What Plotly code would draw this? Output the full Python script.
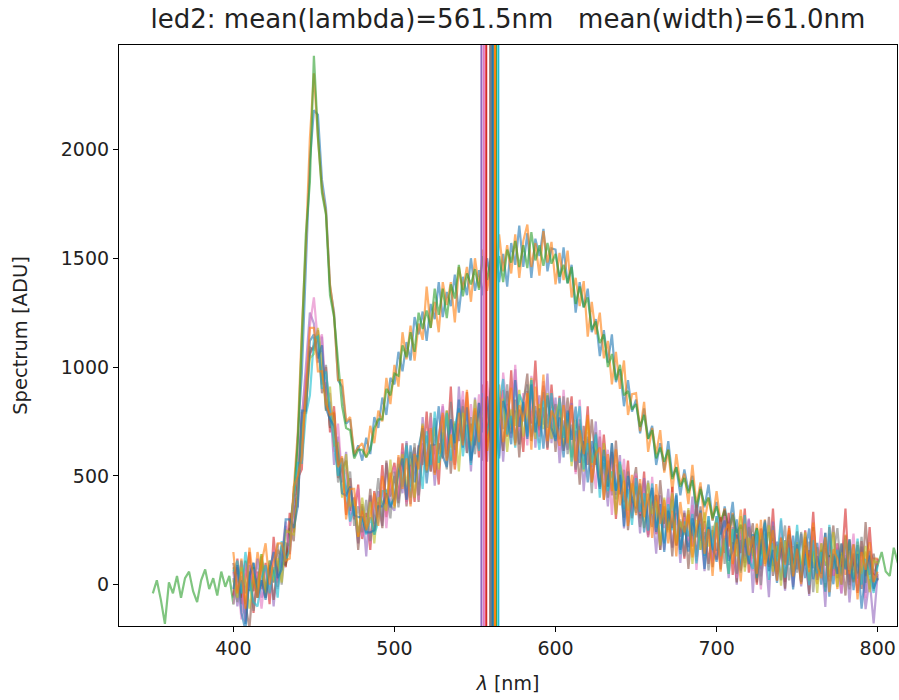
import plotly.graph_objects as go

# wavelength grids (nm), 2.5 nm sampling
WL = [400 + 2.5 * i for i in range(161)]          # 400 .. 800
WL_GREEN = [350 + 2.5 * i for i in range(187)]    # 350 .. 815

# ---------------- bright spectra (ADU) ----------------
HIGH_BLUE = [
    -60, 80, -20, -180, 40, 100, -50, 20, -60, 110, 60, 10, 140, 120, 240, 350, 680, 970, 1460, 1950,
    2180, 2160, 1860, 1730, 1370, 1250, 940, 910, 740, 760, 590, 640, 570, 675, 600, 770, 720, 860, 780, 950,
    920, 1070, 980, 1115, 1030, 1230, 1150, 1255, 1120, 1290, 1220, 1390, 1230, 1345, 1280, 1425, 1250, 1415, 1330, 1500,
    1350, 1445, 1330, 1500, 1400, 1570, 1390, 1520, 1370, 1570, 1470, 1650, 1460, 1615, 1410, 1590, 1510, 1635, 1440, 1545,
    1540, 1385, 1550, 1385, 1470, 1250, 1390, 1275, 1360, 1160, 1220, 1050, 1170, 1020, 1150, 930, 990, 820, 940, 795,
    850, 695, 810, 670, 730, 550, 650, 525, 660, 495, 540, 410, 530, 430, 500, 315, 450, 355, 460, 295,
    380, 230, 360, 255, 380, 188, 265, 132, 300, 170, 260, 70, 210, 242, 85, 198, 20, 205, 90, 225,
    70, 235, 30, 158, 75, 192, 0, 168, 125, 2, 170, 48, 225, 12, 120, 28, 175, -38, 130, 50,
    40]
HIGH_ORANGE = [
    80, -40, 120, -90, 60, -30, 150, 40, -50, 90, 10, 160, 130, 90, 180, 440, 700, 1170, 1560, 2050,
    2350, 2050, 1820, 1710, 1380, 1240, 940, 940, 750, 770, 600, 630, 650, 585, 730, 650, 800, 750, 950, 830,
    1010, 910, 1160, 1035, 1190, 1030, 1200, 1125, 1370, 1180, 1300, 1160, 1390, 1285, 1390, 1205, 1460, 1355, 1460, 1300,
    1500, 1365, 1540, 1350, 1480, 1330, 1610, 1440, 1560, 1430, 1610, 1410, 1580, 1655, 1460, 1570, 1420, 1625, 1480, 1575,
    1380, 1525, 1400, 1535, 1320, 1410, 1280, 1395, 1140, 1300, 1150, 1250, 1040, 1120, 920, 1070, 900, 1030, 780, 875,
    880, 705, 840, 610, 720, 600, 710, 515, 620, 425, 600, 460, 510, 370, 550, 365, 470, 285, 400, 295,
    430, 280, 350, 175, 330, 188, 345, 182, 250, 120, 280, 130, 300, 92, 205, 58, 220, 115, 250, 65,
    190, 35, 220, 78, 185, 2, 150, 188, 35, 132, -20, 188, 45, 152, 10, 198, 55, 152, -20, 120,
    120]
HIGH_GREEN = [
    -40, 20, -70, -180, 10, -40, 40, -60, 30, 60, -30, -80, 20, 70, -20, 30, -50, 60, -10, 40,
    -90, 50, -60, 110, -30, 80, -20, 140, -30, 80, 60, -10, 100, 90, 270, 400, 650, 1150, 1610, 1850,
    2430, 2060, 1800, 1700, 1330, 1230, 1020, 820, 720, 710, 580, 620, 620, 585, 620, 720, 760, 760, 900, 870,
    970, 960, 1100, 1045, 1160, 1070, 1250, 1175, 1260, 1180, 1360, 1240, 1360, 1225, 1380, 1315, 1470, 1325, 1430, 1380,
    1450, 1355, 1510, 1400, 1510, 1430, 1510, 1390, 1540, 1480, 1580, 1460, 1560, 1455, 1620, 1490, 1560, 1465, 1570, 1475,
    1520, 1415, 1470, 1385, 1460, 1290, 1370, 1275, 1320, 1170, 1210, 1110, 1150, 1000, 1060, 940, 1010, 870, 890, 805,
    830, 725, 780, 670, 710, 580, 630, 565, 620, 485, 540, 450, 490, 420, 480, 355, 440, 365, 400, 305,
    360, 290, 340, 245, 320, 238, 275, 172, 260, 190, 260, 140, 210, 132, 215, 128, 190, 95, 200, 95,
    160, 75, 180, 88, 155, 52, 160, 88, 135, 62, 160, 48, 135, 62, 140, 28, 115, 42, 130, 50,
    90, 150, 60, 40, 170, 100, 160]

# ---------------- dim spectra (ADU) ----------------
LOW_RED = [
    -50, 120, -90, 30, 150, -130, 60, -20, 100, -90, 220, 20, 160, 80, 330, 240, 490, 530, 940, 1060,
    1100, 1170, 940, 1000, 700, 820, 550, 580, 320, 490, 300, 460, 210, 330, 160, 430, 320, 550, 310, 485,
    560, 395, 650, 380, 550, 380, 640, 550, 795, 520, 645, 460, 780, 600, 910, 550, 740, 660, 885, 560,
    800, 585, 920, 685, 840, 545, 800, 895, 680, 985, 650, 805, 610, 890, 740, 1030, 680, 815, 620, 920,
    680, 868, 615, 730, 865, 518, 730, 590, 820, 470, 620, 460, 690, 480, 610, 302, 525, 378, 570, 305,
    500, 305, 520, 228, 375, 412, 160, 360, 250, 450, 180, 290, 120, 342, 175, 368, 200, 292, 95, 250,
    115, 310, 145, 330, 45, 230, 145, 350, 55, 192, 0, 258, 175, 82, 350, 48, 185, 12, 270, 98,
    195, 12, 250, 78, 335, 22, 130, -32, 265, 42, 190, 80, 350, -2, 135, -38, 200, 38, 265, 12,
    120]
LOW_PURPLE = [
    60, -100, 40, -170, 90, -30, 120, -60, -10, 100, -100, 110, 80, 270, 140, 360, 360, 760, 1000, 1250,
    1200, 1020, 1140, 800, 840, 550, 680, 470, 610, 320, 360, 190, 360, 130, 410, 280, 430, 270, 560, 365,
    340, 585, 420, 660, 370, 590, 460, 770, 555, 710, 455, 670, 820, 580, 750, 550, 910, 650, 815, 520,
    860, 625, 770, 565, 920, 685, 860, 565, 830, 735, 990, 645, 830, 710, 940, 630, 870, 735, 970, 650,
    860, 558, 755, 620, 835, 538, 740, 430, 670, 540, 750, 450, 550, 360, 600, 412, 595, 258, 470, 315,
    470, 235, 490, 288, 355, 142, 410, 260, 440, 170, 330, 100, 340, 172, 405, 108, 260, 62, 315, 110,
    315, 110, 225, 30, 265, 0, 225, 130, 295, -38, 230, 38, 165, -58, 290, 78, 165, -28, 220, -12,
    185, -8, 140, -52, 225, 22, 150, -102, 235, 42, 80, -40, 180, -82, 145, -28, 100, -112, 25, -178,
    50]
LOW_BROWN = [
    100, -30, 20, -90, -200, 40, -60, 130, -30, 90, -70, 80, 180, 90, 260, 200, 480, 790, 790, 1090,
    1080, 1150, 880, 930, 720, 790, 490, 530, 570, 340, 400, 160, 370, 250, 440, 230, 380, 260, 570, 405,
    500, 375, 610, 360, 540, 630, 380, 650, 545, 790, 515, 650, 580, 800, 510, 740, 660, 850, 605, 740,
    640, 835, 570, 775, 910, 645, 760, 615, 890, 715, 850, 585, 830, 970, 660, 800, 710, 915, 740, 860,
    610, 808, 685, 860, 585, 708, 460, 730, 550, 760, 550, 680, 390, 570, 410, 662, 415, 528, 250, 435,
    540, 315, 390, 218, 435, 232, 480, 280, 350, 130, 390, 220, 330, 72, 285, 128, 360, 182, 295, 80,
    285, 70, 345, 130, 195, 10, 275, 80, 195, 282, 10, 208, 115, 312, 40, 158, 215, -18, 230, 68,
    245, 32, 150, -42, 265, 72, 190, -12, 125, 272, 30, 140, -50, 208, 65, 182, -20, 288, 45, 142,
    20]
LOW_PINK = [
    -90, 50, -160, 100, -20, 70, 30, -110, 70, -30, 160, -20, 130, 290, 140, 400, 410, 770, 950, 1190,
    1320, 1110, 1150, 850, 880, 610, 740, 490, 530, 270, 390, 440, 220, 310, 190, 420, 310, 450, 260, 485,
    540, 385, 620, 370, 530, 610, 390, 690, 545, 770, 525, 690, 830, 620, 760, 530, 730, 890, 615, 830,
    660, 875, 620, 935, 710, 825, 590, 975, 790, 675, 1010, 705, 880, 640, 960, 800, 650, 935, 720, 870,
    800, 618, 895, 660, 805, 508, 850, 560, 700, 620, 440, 710, 480, 620, 320, 552, 435, 578, 320, 455,
    510, 325, 430, 218, 495, 232, 350, 160, 400, 260, 420, 150, 310, 202, 365, 68, 310, 152, 245, 100,
    265, 90, 315, 120, 185, 30, 255, 130, 305, 62, 190, -22, 255, 122, 200, 18, 295, 82, 210, -2,
    225, 52, 170, -2, 245, 72, 260, 8, 125, 42, 190, -40, 160, 68, 235, 2, 130, -62, 165, 62,
    40]
LOW_GRAY = [
    30, -80, 110, -40, 60, -120, 20, 90, -60, 60, 10, 190, 0, 190, 180, 420, 390, 730, 880, 1070,
    1090, 1140, 920, 1010, 730, 770, 470, 550, 420, 520, 270, 360, 240, 390, 200, 330, 490, 310, 440, 305,
    520, 355, 510, 650, 450, 650, 410, 600, 685, 520, 765, 600, 700, 530, 840, 620, 700, 820, 605, 770,
    600, 775, 850, 655, 750, 585, 840, 715, 920, 695, 800, 645, 850, 920, 680, 820, 730, 885, 630, 780,
    830, 668, 865, 600, 735, 528, 760, 610, 680, 420, 700, 500, 560, 400, 650, 392, 495, 308, 520, 375,
    450, 265, 380, 478, 265, 412, 160, 350, 260, 390, 180, 300, 130, 322, 225, 378, 160, 242, 65, 270,
    155, 290, 95, 240, 325, 50, 205, 100, 265, 132, 220, -2, 235, 102, 270, 58, 155, 272, 20, 178,
    55, 242, 90, 198, -35, 172, 100, 238, 15, 142, 260, 40, 120, -22, 185, 52, 220, 8, 135, -28,
    110]
LOW_OLIVE = [
    20, -60, 80, 10, -110, 50, -30, 140, -40, 110, 20, 120, 10, 250, 240, 230, 420, 710, 810, 1040,
    1060, 1180, 1020, 800, 910, 640, 650, 400, 600, 360, 390, 220, 400, 260, 380, 190, 400, 380, 340, 575,
    350, 515, 600, 450, 610, 400, 590, 740, 515, 620, 725, 530, 700, 800, 630, 750, 520, 790, 725, 640,
    850, 695, 790, 615, 890, 675, 770, 855, 610, 805, 730, 895, 680, 790, 950, 670, 830, 715, 880, 670,
    780, 838, 635, 760, 545, 758, 670, 520, 760, 550, 650, 450, 650, 450, 520, 322, 555, 478, 340, 465,
    350, 455, 260, 468, 325, 382, 180, 400, 240, 420, 190, 290, 230, 352, 95, 298, 160, 332, 175, 240,
    305, 130, 205, 50, 255, 130, 315, 60, 215, 142, 30, 238, 95, 272, 60, 178, -5, 202, 140, 38,
    195, 92, 240, 18, 155, -38, 190, 118, 45, 242, -10, 150, 80, 198, 15, 152, 50, 178, -35, 112,
    100]
LOW_CYAN = [
    60, 110, -40, 150, 20, -80, -100, 30, 90, -40, 80, -60, 200, 110, 160, 420, 560, 560, 780, 870,
    1130, 1140, 900, 980, 800, 640, 500, 580, 420, 290, 360, 240, 310, 230, 310, 230, 290, 430, 430, 365,
    400, 555, 450, 640, 400, 590, 590, 440, 705, 550, 795, 560, 620, 790, 570, 730, 810, 590, 735, 550,
    780, 615, 880, 695, 770, 595, 830, 945, 690, 775, 630, 875, 830, 680, 940, 750, 620, 845, 720, 880,
    670, 858, 675, 790, 565, 718, 820, 530, 650, 560, 690, 400, 590, 430, 520, 432, 565, 348, 440, 275,
    490, 335, 420, 248, 465, 262, 330, 190, 370, 250, 420, 140, 290, 222, 325, 98, 280, 132, 315, 160,
    315, 130, 215, 50, 255, 190, 55, 320, 115, 72, 250, 88, 285, 22, 190, 108, 305, 32, 170, 58,
    275, 42, 140, -2, 205, 52, 150, -32, 275, 72, 160, 0, 210, 78, 25, 212, 0, 118, 45, -38,
    90]
LOW_BLUE = [
    -20, 90, -130, -210, 40, 100, -60, 20, -70, 70, 150, 30, 70, 300, 300, 260, 360, 800, 800, 1120,
    1150, 1040, 1100, 810, 760, 730, 600, 420, 410, 450, 320, 310, 310, 240, 240, 250, 360, 360, 420, 355,
    400, 515, 580, 390, 640, 470, 630, 720, 465, 640, 645, 820, 590, 540, 760, 650, 850, 630, 815, 570,
    660, 835, 700, 865, 650, 795, 580, 845, 780, 645, 940, 725, 840, 670, 920, 700, 810, 625, 870, 720,
    660, 768, 585, 800, 665, 818, 560, 660, 470, 660, 580, 440, 620, 450, 650, 432, 505, 268, 500, 395,
    330, 465, 240, 378, 445, 242, 370, 150, 340, 260, 410, 160, 270, 152, 305, 218, 340, 72, 265, 170,
    105, 230, 295, 110, 155, 300, 65, 210, 95, 232, 30, 178, 295, 62, 160, 8, 195, 102, 230, -22,
    185, 12, 150, 258, 25, 132, 50, 238, -55, 142, 50, 190, 70, 208, -25, 142, -110, 58, 155, -18,
    30]
LOW_ORANGE = [
    150, -40, 60, -110, 170, 20, -60, 100, 190, 0, 100, 190, 190, 110, 120, 450, 500, 590, 880, 1180,
    1180, 980, 980, 830, 780, 790, 540, 590, 300, 440, 440, 220, 340, 250, 310, 420, 270, 500, 370, 515,
    360, 595, 440, 580, 360, 600, 530, 730, 525, 720, 505, 680, 790, 570, 690, 530, 790, 640, 895, 660,
    810, 655, 860, 615, 760, 685, 920, 655, 770, 905, 640, 825, 750, 880, 620, 910, 730, 965, 660, 800,
    760, 638, 825, 650, 825, 568, 710, 600, 780, 470, 600, 630, 390, 600, 430, 622, 365, 478, 270, 505,
    320, 485, 310, 418, 215, 462, 280, 390, 190, 340, 130, 380, 240, 322, 125, 258, 330, 142, 255, 40,
    285, 60, 245, 280, 95, 210, 15, 280, 135, 222, 50, 298, 85, 172, 250, 18, 215, 92, 260, 38,
    165, 2, 210, 58, 285, 82, 30, 218, -35, 162, 120, 0, 230, 48, 185, -68, 150, 68, 195, 12,
    60]

# per-spectrum mean wavelength (nm), drawn as vertical lines
MEAN_LAMBDA = [561.0, 562.5, 563.0, 557.0, 554.0, 559.5, 555.5, 560.0, 562.0, 564.5, 561.0, 562.5]

TITLE = "led2: mean(lambda)=561.5nm\u00a0\u00a0\u00a0mean(width)=61.0nm"
XTICKS = [400, 500, 600, 700, 800]
YTICKS = [0, 500, 1000, 1500, 2000]

TAB10 = ["#1f77b4", "#ff7f0e", "#2ca02c", "#d62728", "#9467bd",
         "#8c564b", "#e377c2", "#7f7f7f", "#bcbd22", "#17becf"]

series = [
    (WL, HIGH_BLUE), (WL, HIGH_ORANGE), (WL_GREEN, HIGH_GREEN),
    (WL, LOW_RED), (WL, LOW_PURPLE), (WL, LOW_BROWN), (WL, LOW_PINK),
    (WL, LOW_GRAY), (WL, LOW_OLIVE), (WL, LOW_CYAN), (WL, LOW_BLUE), (WL, LOW_ORANGE),
]
for xs, ys in series:
    assert len(xs) == len(ys), (len(xs), len(ys))

fig = go.Figure()
for i, (xs, ys) in enumerate(series):
    fig.add_trace(go.Scatter(x=xs, y=ys, mode="lines",
                             line=dict(color=TAB10[i % 10], width=2.2),
                             opacity=0.6, showlegend=False, hoverinfo="skip"))

YMIN, YMAX = -190, 2480
for i, m in enumerate(MEAN_LAMBDA):
    fig.add_trace(go.Scatter(x=[m, m], y=[YMIN, YMAX], mode="lines",
                             line=dict(color=TAB10[i % 10], width=2),
                             showlegend=False, hoverinfo="skip"))

axis_common = dict(showline=True, mirror=True, linecolor="black", linewidth=1.2,
                   ticks="outside", ticklen=5, tickwidth=1.2, tickcolor="black",
                   showgrid=False, zeroline=False,
                   tickfont=dict(family="DejaVu Sans", size=19, color="#222"))

fig.update_layout(
    width=899, height=700,
    margin=dict(l=119, r=2, t=45, b=74),
    paper_bgcolor="white", plot_bgcolor="white",
    title=dict(text=TITLE, x=0.565, xanchor="center", y=1 - 19 / 700, yanchor="middle",
               yref="container", font=dict(family="DejaVu Sans", size=26, color="#222")),
    xaxis=dict(range=[329, 812], tickvals=XTICKS, **axis_common,
               title=dict(text="<i>λ</i> [nm]", standoff=18,
                          font=dict(family="DejaVu Sans", size=19, color="#222"))),
    yaxis=dict(range=[YMIN, YMAX], tickvals=YTICKS, **axis_common,
               title=dict(text="Spectrum [ADU]", standoff=27,
                          font=dict(family="DejaVu Sans", size=19.5, color="#222"))),
)

fig.write_html("out.html")
